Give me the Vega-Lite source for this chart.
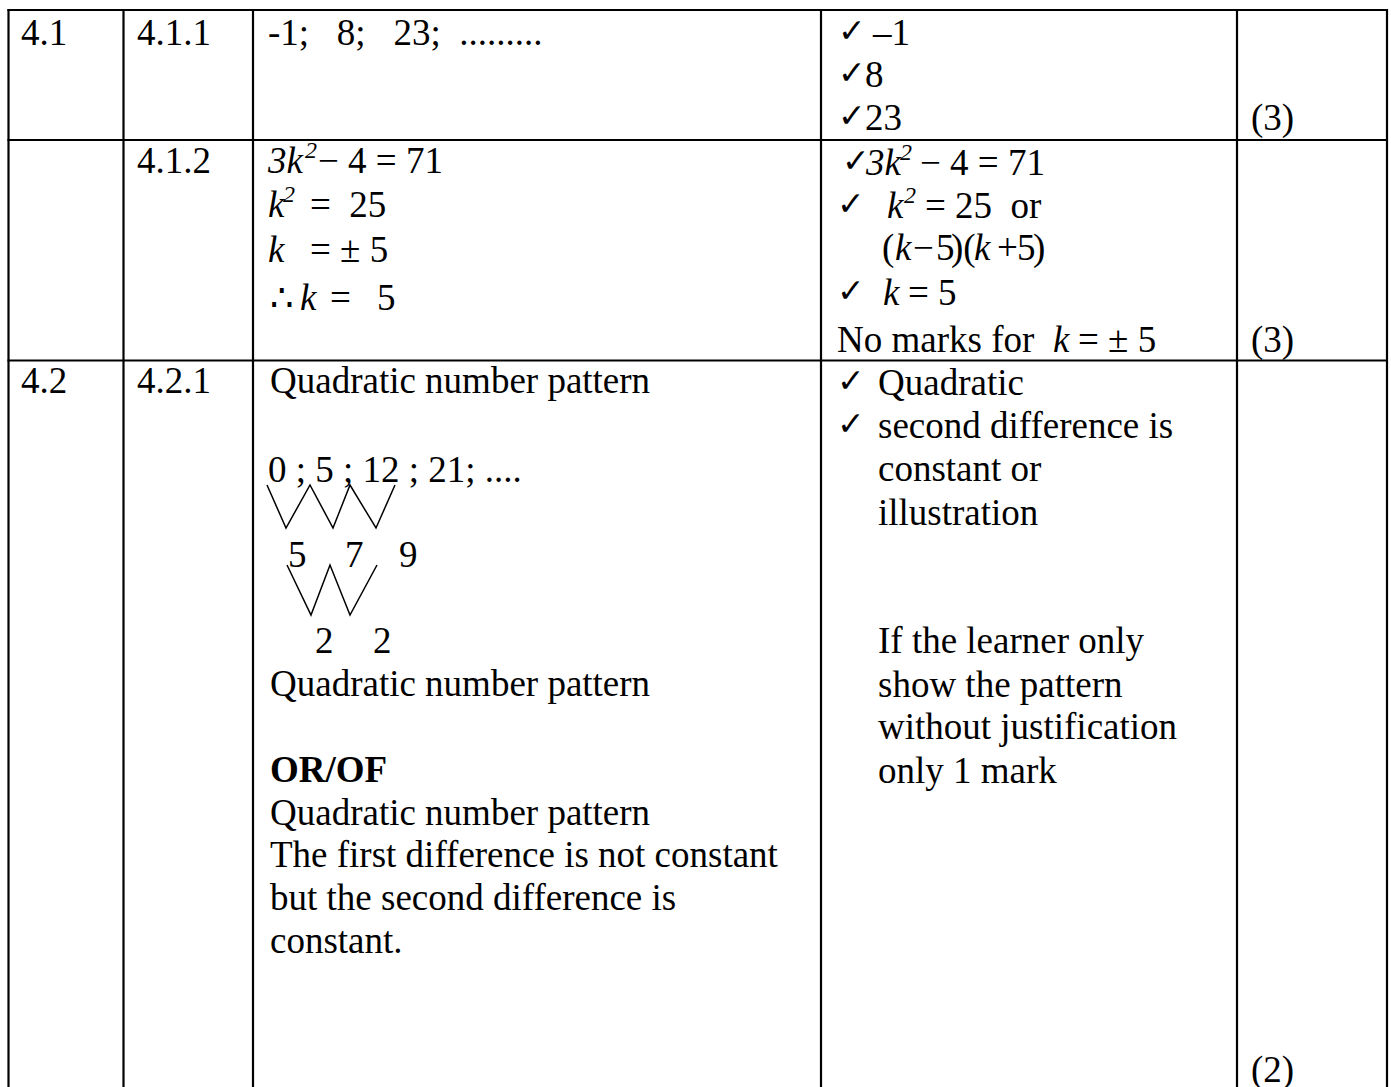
{
  "$schema": "https://vega.github.io/schema/vega-lite/v6.json",
  "width": 1391,
  "height": 1087,
  "padding": 0,
  "autosize": {"type": "none"},
  "background": "white",
  "config": {"view": {"stroke": null}},
  "datasets": {
    "rules": [
      {"x1": 8.5, "y1": 9, "x2": 8.5, "y2": 1087},
      {"x1": 123.5, "y1": 9, "x2": 123.5, "y2": 1087},
      {"x1": 253, "y1": 9, "x2": 253, "y2": 1087},
      {"x1": 821, "y1": 9, "x2": 821, "y2": 1087},
      {"x1": 1237, "y1": 9, "x2": 1237, "y2": 1087},
      {"x1": 1387, "y1": 9, "x2": 1387, "y2": 1087},
      {"x1": 7.5, "y1": 10, "x2": 1388, "y2": 10},
      {"x1": 7.5, "y1": 140, "x2": 1388, "y2": 140},
      {"x1": 7.5, "y1": 360.5, "x2": 1388, "y2": 360.5}
    ],
    "zig": [
      {"g": 1, "i": 0, "x": 267, "y": 485},
      {"g": 1, "i": 1, "x": 286, "y": 528},
      {"g": 1, "i": 2, "x": 310, "y": 485},
      {"g": 1, "i": 3, "x": 333, "y": 528},
      {"g": 1, "i": 4, "x": 350, "y": 485},
      {"g": 1, "i": 5, "x": 376, "y": 528},
      {"g": 1, "i": 6, "x": 395, "y": 485},
      {"g": 2, "i": 0, "x": 287, "y": 565},
      {"g": 2, "i": 1, "x": 311, "y": 615},
      {"g": 2, "i": 2, "x": 330, "y": 565},
      {"g": 2, "i": 3, "x": 350, "y": 615},
      {"g": 2, "i": 4, "x": 377, "y": 565}
    ],
    "upright": [
      {"t": "4.1", "x": 21, "y": 45},
      {"t": "4.1.1", "x": 137, "y": 45},
      {"t": "-1;\u00a0\u00a0\u00a08;\u00a0\u00a0\u00a023;\u00a0\u00a0.........", "x": 268, "y": 45},
      {"t": "–1", "x": 873, "y": 45},
      {"t": "8", "x": 865, "y": 87},
      {"t": "23", "x": 865, "y": 130},
      {"t": "(3)", "x": 1251, "y": 130},
      {"t": "4.1.2", "x": 137, "y": 173},
      {"t": "− 4 = 71", "x": 318, "y": 173},
      {"t": "=\u00a0\u00a025", "x": 310, "y": 217},
      {"t": "= ± 5", "x": 310, "y": 262},
      {"t": "∴", "x": 270, "y": 310},
      {"t": "=", "x": 330, "y": 310},
      {"t": "5", "x": 377, "y": 310},
      {"t": "− 4 = 71", "x": 920, "y": 175},
      {"t": "= 25\u00a0\u00a0or", "x": 925, "y": 218},
      {"t": "(", "x": 882, "y": 260},
      {"t": "−", "x": 913, "y": 260},
      {"t": "5", "x": 936, "y": 260},
      {"t": ")(", "x": 951, "y": 260},
      {"t": "+", "x": 997, "y": 260},
      {"t": "5", "x": 1017, "y": 260},
      {"t": ")", "x": 1033, "y": 260},
      {"t": "= 5", "x": 908, "y": 305},
      {"t": "No marks for", "x": 837, "y": 352},
      {"t": "= ± 5", "x": 1078, "y": 352},
      {"t": "(3)", "x": 1251, "y": 352},
      {"t": "4.2", "x": 21, "y": 393},
      {"t": "4.2.1", "x": 137, "y": 393},
      {"t": "Quadratic number pattern", "x": 270, "y": 393},
      {"t": "0 ; 5 ; 12 ; 21; ....", "x": 268, "y": 482},
      {"t": "5", "x": 288, "y": 567},
      {"t": "7", "x": 345, "y": 567},
      {"t": "9", "x": 399, "y": 567},
      {"t": "2", "x": 315, "y": 653},
      {"t": "2", "x": 373, "y": 653},
      {"t": "Quadratic number pattern", "x": 270, "y": 696},
      {"t": "Quadratic number pattern", "x": 270, "y": 825},
      {"t": "The first difference is not constant", "x": 270, "y": 867},
      {"t": "but the second difference is", "x": 270, "y": 910},
      {"t": "constant.", "x": 270, "y": 953},
      {"t": "Quadratic", "x": 878, "y": 395},
      {"t": "second difference is", "x": 878, "y": 438},
      {"t": "constant or", "x": 878, "y": 481},
      {"t": "illustration", "x": 878, "y": 525},
      {"t": "If the learner only", "x": 878, "y": 653},
      {"t": "show the pattern", "x": 878, "y": 697},
      {"t": "without justification", "x": 878, "y": 739},
      {"t": "only 1 mark", "x": 878, "y": 783},
      {"t": "(2)", "x": 1251, "y": 1082}
    ],
    "italic": [
      {"t": "3k", "x": 268, "y": 173},
      {"t": "k", "x": 268, "y": 217},
      {"t": "k", "x": 268, "y": 262},
      {"t": "k", "x": 300, "y": 310},
      {"t": "3k", "x": 866, "y": 175},
      {"t": "k", "x": 887, "y": 218},
      {"t": "k", "x": 895, "y": 260},
      {"t": "k", "x": 974, "y": 260},
      {"t": "k", "x": 883, "y": 305},
      {"t": "k", "x": 1053, "y": 352}
    ],
    "sup": [
      {"t": "2", "x": 305, "y": 158},
      {"t": "2", "x": 283, "y": 202},
      {"t": "2", "x": 900, "y": 160},
      {"t": "2", "x": 904, "y": 203}
    ],
    "bold": [
      {"t": "OR/OF", "x": 270, "y": 782}
    ],
    "checks": [
      {"t": "✓", "x": 838, "y": 45},
      {"t": "✓", "x": 838, "y": 87},
      {"t": "✓", "x": 838, "y": 130},
      {"t": "✓", "x": 842, "y": 175},
      {"t": "✓", "x": 837, "y": 218},
      {"t": "✓", "x": 837, "y": 305},
      {"t": "✓", "x": 837, "y": 395},
      {"t": "✓", "x": 837, "y": 438}
    ]
  },
  "layer": [
    {
      "data": {"name": "rules"},
      "mark": {"type": "rule", "color": "black", "strokeWidth": 2.2},
      "encoding": {
        "x": {"field": "x1", "type": "quantitative", "scale": {"domain": [0, 1391], "range": [0, 1391], "nice": false, "zero": false}, "axis": null},
        "y": {"field": "y1", "type": "quantitative", "scale": {"domain": [0, 1087], "range": [0, 1087], "nice": false, "zero": false}, "axis": null},
        "x2": {"field": "x2"},
        "y2": {"field": "y2"}
      }
    },
    {
      "data": {"name": "zig"},
      "mark": {"type": "line", "color": "black", "strokeWidth": 1.5},
      "encoding": {
        "x": {"field": "x", "type": "quantitative", "scale": {"domain": [0, 1391], "range": [0, 1391], "nice": false, "zero": false}, "axis": null},
        "y": {"field": "y", "type": "quantitative", "scale": {"domain": [0, 1087], "range": [0, 1087], "nice": false, "zero": false}, "axis": null},
        "detail": {"field": "g", "type": "nominal"},
        "order": {"field": "i", "type": "quantitative"}
      }
    },
    {
      "data": {"name": "upright"},
      "mark": {"type": "text", "align": "left", "baseline": "alphabetic", "font": "Liberation Serif", "fontSize": 37, "color": "black"},
      "encoding": {
        "x": {"field": "x", "type": "quantitative", "scale": {"domain": [0, 1391], "range": [0, 1391], "nice": false, "zero": false}, "axis": null},
        "y": {"field": "y", "type": "quantitative", "scale": {"domain": [0, 1087], "range": [0, 1087], "nice": false, "zero": false}, "axis": null},
        "text": {"field": "t", "type": "nominal"}
      }
    },
    {
      "data": {"name": "italic"},
      "mark": {"type": "text", "align": "left", "baseline": "alphabetic", "font": "Liberation Serif", "fontSize": 37, "fontStyle": "italic", "color": "black"},
      "encoding": {
        "x": {"field": "x", "type": "quantitative", "scale": {"domain": [0, 1391], "range": [0, 1391], "nice": false, "zero": false}, "axis": null},
        "y": {"field": "y", "type": "quantitative", "scale": {"domain": [0, 1087], "range": [0, 1087], "nice": false, "zero": false}, "axis": null},
        "text": {"field": "t", "type": "nominal"}
      }
    },
    {
      "data": {"name": "sup"},
      "mark": {"type": "text", "align": "left", "baseline": "alphabetic", "font": "Liberation Serif", "fontSize": 24, "fontStyle": "italic", "color": "black"},
      "encoding": {
        "x": {"field": "x", "type": "quantitative", "scale": {"domain": [0, 1391], "range": [0, 1391], "nice": false, "zero": false}, "axis": null},
        "y": {"field": "y", "type": "quantitative", "scale": {"domain": [0, 1087], "range": [0, 1087], "nice": false, "zero": false}, "axis": null},
        "text": {"field": "t", "type": "nominal"}
      }
    },
    {
      "data": {"name": "bold"},
      "mark": {"type": "text", "align": "left", "baseline": "alphabetic", "font": "Liberation Serif", "fontSize": 37, "fontWeight": "bold", "color": "black"},
      "encoding": {
        "x": {"field": "x", "type": "quantitative", "scale": {"domain": [0, 1391], "range": [0, 1391], "nice": false, "zero": false}, "axis": null},
        "y": {"field": "y", "type": "quantitative", "scale": {"domain": [0, 1087], "range": [0, 1087], "nice": false, "zero": false}, "axis": null},
        "text": {"field": "t", "type": "nominal"}
      }
    },
    {
      "data": {"name": "checks"},
      "mark": {"type": "text", "align": "left", "baseline": "alphabetic", "dy": -3, "font": "DejaVu Sans", "fontSize": 33, "fontWeight": "bold", "color": "black"},
      "encoding": {
        "x": {"field": "x", "type": "quantitative", "scale": {"domain": [0, 1391], "range": [0, 1391], "nice": false, "zero": false}, "axis": null},
        "y": {"field": "y", "type": "quantitative", "scale": {"domain": [0, 1087], "range": [0, 1087], "nice": false, "zero": false}, "axis": null},
        "text": {"field": "t", "type": "nominal"}
      }
    }
  ]
}
